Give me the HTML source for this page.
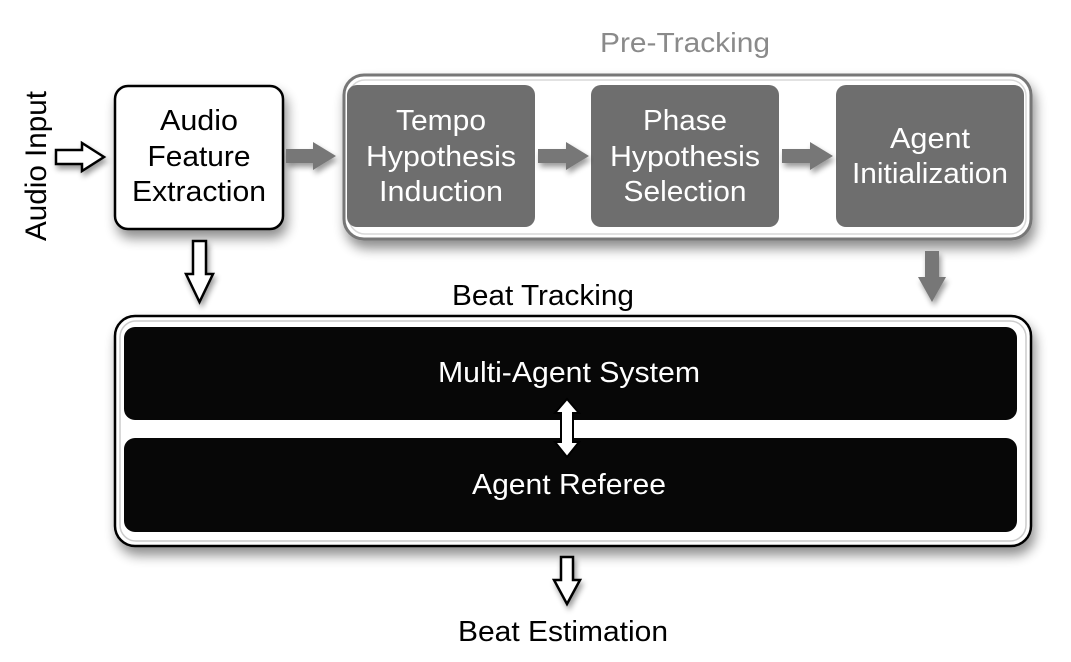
<!DOCTYPE html>
<html><head><meta charset="utf-8"><style>
html,body{margin:0;padding:0;background:#fff}
svg{display:block}
text{font-family:"Liberation Sans",sans-serif}
</style></head><body>
<svg width="1071" height="662" viewBox="0 0 1071 662" xmlns="http://www.w3.org/2000/svg">
<defs>
<filter id="sh" x="-10%" y="-10%" width="125%" height="135%"><feGaussianBlur in="SourceAlpha" stdDeviation="6"/><feOffset dx="3" dy="8"/><feComponentTransfer><feFuncA type="linear" slope="0.45"/></feComponentTransfer><feMerge><feMergeNode/><feMergeNode in="SourceGraphic"/></feMerge></filter>
<filter id="sh2" x="-50%" y="-30%" width="200%" height="180%"><feGaussianBlur in="SourceAlpha" stdDeviation="3"/><feOffset dx="2" dy="4"/><feComponentTransfer><feFuncA type="linear" slope="0.4"/></feComponentTransfer><feMerge><feMergeNode/><feMergeNode in="SourceGraphic"/></feMerge></filter>
</defs>
<text x="685" y="52" font-size="28" fill="#8a8a8a" text-anchor="middle" textLength="170" lengthAdjust="spacingAndGlyphs">Pre-Tracking</text>
<text transform="translate(46,166) rotate(-90)" font-size="30" text-anchor="middle" textLength="150" lengthAdjust="spacingAndGlyphs">Audio Input</text>
<path d="M56,150 H82 V143 L104,157 L82,171 V164 H56 Z" fill="#fff" stroke="#000" stroke-width="2.5" filter="url(#sh2)"/>
<rect x="115" y="86" width="168" height="143" rx="13" fill="#fff" stroke="#000" stroke-width="2.5" filter="url(#sh)"/>
<g font-size="29" text-anchor="middle">
<text x="199" y="130" textLength="78" lengthAdjust="spacingAndGlyphs">Audio</text>
<text x="199" y="166" textLength="103" lengthAdjust="spacingAndGlyphs">Feature</text>
<text x="199" y="201" textLength="134" lengthAdjust="spacingAndGlyphs">Extraction</text>
</g>
<rect x="344" y="75" width="687" height="164" rx="20" fill="#fff" stroke="#777" stroke-width="3" filter="url(#sh)"/>
<rect x="349" y="80" width="677" height="154" rx="16" fill="none" stroke="#d8d8d8" stroke-width="1.5"/>
<rect x="347" y="85" width="188" height="142" rx="10" fill="#6e6e6e"/>
<rect x="591" y="85" width="188" height="142" rx="10" fill="#6e6e6e"/>
<rect x="836" y="85" width="188" height="142" rx="10" fill="#6e6e6e"/>
<g font-size="29" fill="#fff" text-anchor="middle">
<text x="441" y="130" textLength="90" lengthAdjust="spacingAndGlyphs">Tempo</text>
<text x="441" y="166" textLength="150" lengthAdjust="spacingAndGlyphs">Hypothesis</text>
<text x="441" y="201" textLength="124" lengthAdjust="spacingAndGlyphs">Induction</text>
<text x="685" y="130" textLength="84" lengthAdjust="spacingAndGlyphs">Phase</text>
<text x="685" y="166" textLength="150" lengthAdjust="spacingAndGlyphs">Hypothesis</text>
<text x="685" y="201" textLength="123" lengthAdjust="spacingAndGlyphs">Selection</text>
<text x="930" y="148" textLength="80" lengthAdjust="spacingAndGlyphs">Agent</text>
<text x="930" y="183" textLength="156" lengthAdjust="spacingAndGlyphs">Initialization</text>
</g>
<g fill="#777" filter="url(#sh2)">
<path d="M286,149 H313 V142 L336,156 L313,170 V163 H286 Z"/>
<path d="M538,149 H566 V142 L589,156 L566,170 V163 H538 Z"/>
<path d="M782,149 H810 V142 L833,156 L810,170 V163 H782 Z"/>
<path d="M925,251 H939 V277 H946 L932,302 L918,277 H925 Z"/>
</g>
<path d="M193,241 H206 V274 H213 L199.5,302 L186,274 H193 Z" fill="#fff" stroke="#000" stroke-width="2.5" filter="url(#sh2)"/>
<text x="543" y="305" font-size="29" text-anchor="middle" textLength="182" lengthAdjust="spacingAndGlyphs">Beat Tracking</text>
<rect x="115" y="316" width="916" height="230" rx="20" fill="#fff" stroke="#000" stroke-width="2.5" filter="url(#sh)"/>
<rect x="120" y="321" width="906" height="220" rx="16" fill="none" stroke="#ccc" stroke-width="1.5"/>
<rect x="124" y="327" width="893" height="93" rx="11" fill="#070707"/>
<rect x="124" y="438" width="893" height="94" rx="11" fill="#070707"/>
<g font-size="29" fill="#fff" text-anchor="middle">
<text x="569" y="382" textLength="262" lengthAdjust="spacingAndGlyphs">Multi-Agent System</text>
<text x="569" y="494" textLength="194" lengthAdjust="spacingAndGlyphs">Agent Referee</text>
</g>
<path d="M567,399 L579,413 H573 V442 H579 L567,457 L555,442 H561 V413 H555 Z" fill="#fff" stroke="#000" stroke-width="2"/>
<path d="M561,557 H573 V580 H580 L567,604 L554,580 H561 Z" fill="#fff" stroke="#000" stroke-width="2.5" filter="url(#sh2)"/>
<text x="563" y="641" font-size="29" text-anchor="middle" textLength="210" lengthAdjust="spacingAndGlyphs">Beat Estimation</text>
</svg>
</body></html>
